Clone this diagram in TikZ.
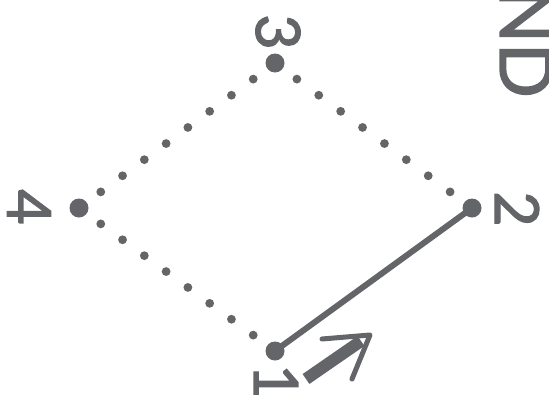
\documentclass[tikz,border=0pt]{standalone}
\usepackage{fontspec}
\setmainfont{Lato}
\newfontfamily\lblfont{Lato}[FakeBold=2]
\usetikzlibrary{calc}
\definecolor{ink}{RGB}{100,101,104}
\begin{document}
\begin{tikzpicture}[x=1pt,y=-1pt,
  pt/.style={circle,fill=ink,minimum size=19pt,inner sep=0pt},
  lbl/.style={rotate=-90,inner sep=0pt,text=ink,font=\lblfont\fontsize{61}{61}\selectfont},
  big/.style={rotate=-90,inner sep=0pt,text=ink,font=\lblfont\fontsize{72}{72}\selectfont},
  dotline/.style={ink},
  solidline/.style={ink,line width=6pt},
  shaft/.style={ink,line width=12pt},
  head/.style={ink,line width=5pt,line cap=round,line join=round}]
\useasboundingbox (0,0) rectangle (549,394);
\clip (0,0) rectangle (549,394);
\node[pt] (p1) at (275,351) {};
\node[pt] (p2) at (472,208) {};
\node[pt] (p3) at (275,63) {};
\node[pt] (p4) at (79,208) {};
\node[lbl] (l1) at (276,382) {1};
\node[lbl] (l2) at (517,209) {2};
\node[lbl] (l3) at (278,32) {3};
\node[lbl] (l4) at (29,207) {4};
\node[big,anchor=base east] (t) at (500,98) {ND};
\foreach \a/\b in {p3/p2,p3/p4,p4/p1}
  \foreach \t in {1,...,8}
    \fill[dotline] ($(\a)!\t/9!(\b)$) circle (4.4pt);
\draw[solidline] (p1.center) -- (p2.center);
\coordinate (a0) at (306,379);
\coordinate (a1) at (361,341);
\coordinate (tip) at (370,335);
\coordinate (h1) at (322,339);
\coordinate (h2) at (352,379);
\draw[shaft] (a0) -- (a1);
\draw[head] (h1) -- (tip) -- (h2);
\end{tikzpicture}
\end{document}
